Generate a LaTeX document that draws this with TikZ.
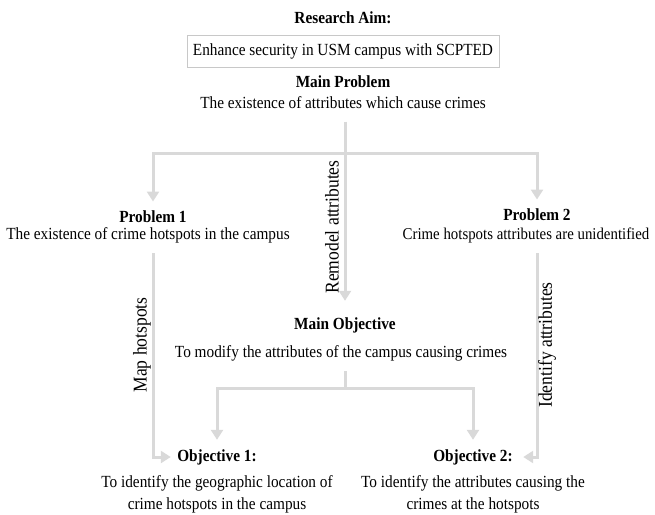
\documentclass[tikz,border=0pt]{standalone}
\usepackage{fontspec}
\setmainfont{Liberation Serif}[FakeStretch=0.9]
\usepackage{tikz}
\usetikzlibrary{arrows.meta}

\definecolor{linkgray}{RGB}{217,217,217}
\definecolor{boxgray}{RGB}{200,200,200}

\begin{document}
\begin{tikzpicture}[x=1pt, y=-1pt, line width=3pt,
    title/.style={font=\fontsize{17}{18}\selectfont\bfseries, inner xsep=0pt, inner ysep=8pt},
    body/.style={font=\fontsize{17}{22}\selectfont, align=center, inner xsep=0pt, inner ysep=6pt},
    tag/.style={font=\fontsize{19.5}{20}\selectfont, rotate=90, inner sep=0pt},
    link/.style={draw=linkgray, -{Triangle[width=12pt,length=10pt]}},
    bar/.style={draw=linkgray}]
    \useasboundingbox (0,0) rectangle (655,514);

    % research aim
    \node[title] (aimT) at (343,18) {Research Aim:};
    \node[body, draw=boxgray, line width=0.8pt, minimum width=312pt, minimum height=32pt]
      (aim) at (343,51) {Enhance security in USM campus with SCPTED};

    % problems
    \node[title] (mainprobT) at (343,82) {Main Problem};
    \node[body] (mainprob) at (343,103) {The existence of attributes which cause crimes};
    \node[title] (prob1T) at (153,217) {Problem 1};
    \node[body] (prob1) at (148,235) {The existence of crime hotspots in the campus};
    \node[title] (prob2T) at (537,215) {Problem 2};
    \node[body, font=\fontsize{16.5}{22}\selectfont] (prob2) at (526,235) {Crime hotspots attributes are unidentified};

    % objectives
    \node[title] (mainobjT) at (345,325) {Main Objective};
    \node[body] (mainobj) at (341,353) {To modify the attributes of the campus causing crimes};
    \node[title] (obj1T) at (217,457) {Objective 1:};
    \node[body] (obj1) at (217,494) {To identify the geographic location of\\crime hotspots in the campus};
    \node[title] (obj2T) at (473,457) {Objective 2:};
    \node[body] (obj2) at (473,494) {To identify the attributes causing the\\crimes at the hotspots};

    % split points
    \coordinate (split) at (345,153);
    \coordinate (split2) at (345,388);

    % main problem to problems and main objective
    \draw[link, shorten <=5pt, shorten >=7pt] (mainprob.south -| split) -- (mainobjT.north);
    \draw[link] (split) -| (prob1T.north);
    \draw[link] (split) -| (prob2T.north);

    % problems to objectives
    \draw[link, shorten <=3pt, shorten >=5pt] (prob1.south -| prob1T) |- (obj1T.west);
    \draw[link, shorten <=3pt, shorten >=9pt] (prob2.south -| prob2T) |- (obj2T.east);

    % main objective to objectives
    \draw[bar, shorten <=3pt] (mainobj.south -| split2) -- (split2);
    \draw[link] (split2) -| (obj1T.north);
    \draw[link] (split2) -| (obj2T.north);

    % connector labels
    \node[tag] (remodel) at (332,227) {Remodel attributes};
    \node[tag] (maphot) at (142,345) {Map hotspots};
    \node[tag] (identattr) at (547,345) {Identify attributes};
\end{tikzpicture}
\end{document}
